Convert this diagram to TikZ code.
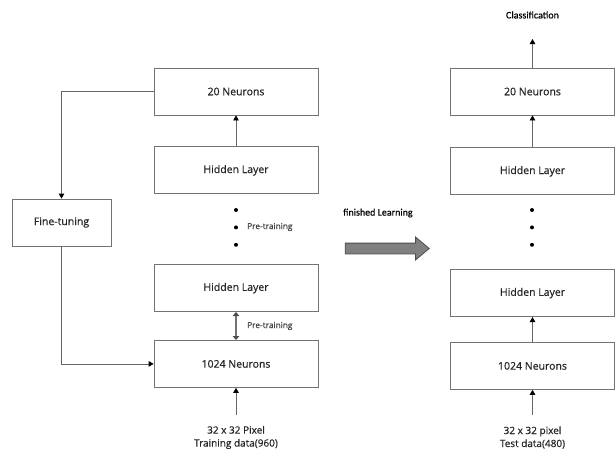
\documentclass[tikz,border=0pt]{standalone}
\usepackage{fontspec}
\setmainfont{Open Sans}
\newfontfamily\boxfont{Open Sans}[FakeBold=0.6]
\newfontfamily\cali{Carlito}[FakeBold=0.5]
\usetikzlibrary{arrows.meta,positioning,shapes.arrows}

\begin{document}
\begin{tikzpicture}[x=1pt,y=-1pt,>={Triangle[length=5pt,width=5.5pt,color=black]},
    layer/.style={draw=black!55,line width=0.8pt,minimum width=164pt,minimum height=47pt,
      inner sep=0pt,font=\boxfont\fontsize{10.5}{12}\selectfont,text=black!85},
    link/.style={draw=black!60,line width=0.8pt,->},
    dot/.style={circle,fill=black,inner sep=0pt,minimum size=4pt},
    note/.style={font=\boxfont\fontsize{8.3}{9}\selectfont,text=black!75,anchor=west,inner sep=0pt},
    src/.style={align=center,font=\boxfont\fontsize{10}{13}\selectfont,text=black!85,inner sep=0pt},
    bigarrow/.style={single arrow,draw=black!70,fill=black!50,line width=0.8pt,
      minimum height=84pt,inner sep=5pt,single arrow head extend=6pt,
      single arrow tip angle=80}]

\useasboundingbox (0,0) rectangle (616,458);

% training network
\node[layer] (n20) at (236,91.5) {20 Neurons};
\node[layer] (h1) [below=31pt of n20] {Hidden Layer};
\node[layer] (h2) [below=70pt of h1] {Hidden Layer};
\node[layer] (in) [below=28pt of h2] {1024 Neurons};
\node[layer,minimum width=99pt] (ft) at (61.5,222.5) {Fine-tuning};

\node[dot] (d1) at (236,210) {};
\node[dot] (d2) [below=13pt of d1] {};
\node[dot] (d3) [below=13pt of d2] {};
\node[note] (pt1) at (247,227) {Pre-training};

\node[src] (train) at (236,437.5) {32 x 32 Pixel\\Training data(960)};
\coordinate (train in) at (236,415);

\draw[link] (h1) -- (n20);
\draw[<->,black!55,line width=2.6pt,>={Triangle[length=4pt,width=6.5pt,color=black!70]}] (h2) -- (in);
\node[note] (pt2) at (247,326) {Pre-training};
\draw[link] (train in) -- (in);
\draw[link] (n20.west) -| (ft.north);
\draw[link] (ft.south) |- (in.west);

% finished
\node[anchor=west,inner sep=0pt,font=\cali\fontsize{10}{12}\selectfont] (fin) at (343,213) {finished Learning};
\node[bigarrow] (done) at (384,248.5) {};

% test network
\node[layer] (rn20) at (532.5,91.5) {20 Neurons};
\node[layer] (rh1) [below=32pt of rn20] {Hidden Layer};
\node[layer] (rh2) [below=74pt of rh1] {Hidden Layer};
\node[layer] (rin) [below=25pt of rh2] {1024 Neurons};

\node[dot] (rd1) at (532,210) {};
\node[dot] (rd2) [below=13pt of rd1] {};
\node[dot] (rd3) [below=13pt of rd2] {};

\node[src] (test) at (532.5,437.5) {32 x 32 pixel\\Test data(480)};
\coordinate (test in) at (532.5,415);
\node[inner sep=0pt,font=\cali\fontsize{10}{12}\selectfont] (cls) at (532.5,15) {Classification};
\coordinate (cls out) at (532.5,39);

\draw[link] (test in) -- (rin);
\draw[link] (rin) -- (rh2);
\draw[link] (rh1) -- (rn20);
\draw[link] (rn20) -- (cls out);
\end{tikzpicture}
\end{document}
